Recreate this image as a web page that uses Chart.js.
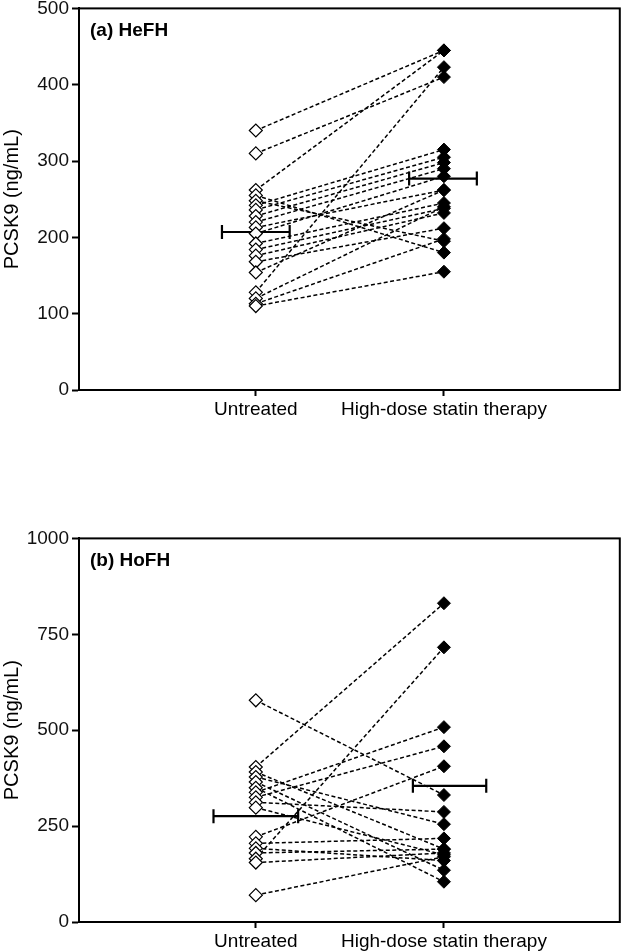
<!DOCTYPE html>
<html>
<head>
<meta charset="utf-8">
<script src="https://cdn.jsdelivr.net/npm/chart.js@4.4.1/dist/chart.umd.min.js"></script>
<style>
  html, body { margin: 0; padding: 0; background: #fff; overflow: hidden; width: 622px; height: 951px; position: relative; }
  canvas { position: absolute; left: 0; }
  #chart-a { top: -6px; }
  #chart-b { top: 524px; }
</style>
</head>
<body>
<canvas id="chart-a" width="629" height="446"></canvas>
<canvas id="chart-b" width="629" height="427"></canvas>
<script>
const groups = ['Untreated', 'High-dose statin therapy'];

// (a) HeFH, paired values (ng/mL)
const untreatedA = [340, 310, 262, 255, 248, 242, 236, 228, 220, 213, 205, 192, 184, 176, 168, 154, 128, 120, 113, 110];
const statinA    = [445, 410, 445, 180, 195, 315, 305, 298, 290, 262, 280, 245, 238, 232, 212, 262, 423, 240, 198, 155];
const meansA = [207, 277];
const yTicksA = [0, 100, 200, 300, 400, 500];

// (b) HoFH, paired values (ng/mL)
const untreatedB = [578, 404, 391, 378, 365, 350, 338, 325, 312, 298, 222, 205, 192, 180, 165, 155, 70];
const statinB    = [331, 831, 190, 255, 135, 105, 508, 458, 287, 175, 406, 218, 160, 190, 716, 180, 170];
const meansB = [276, 355];
const yTicksB = [0, 250, 500, 750, 1000];

const FONT = "'Liberation Sans', Arial, sans-serif";

// border all round the plot area + panel label
const framePlugin = {
    id: 'frame',
    afterDraw(chart, args, opts) {
        const { ctx, chartArea } = chart;
        ctx.save();
        ctx.strokeStyle = '#000';
        ctx.lineWidth = 2;
        ctx.strokeRect(chartArea.left, chartArea.top, chartArea.right - chartArea.left, chartArea.bottom - chartArea.top);
        ctx.fillStyle = '#000';
        ctx.font = 'bold 19px ' + FONT;
        ctx.textBaseline = 'middle';
        ctx.fillText(opts.label, chartArea.left + 11, chartArea.top + 22);
        ctx.restore();
    }
};

function buildChart(id, label, untreated, statin, means, yTicks, halfWidths, xAxisHeight) {
    const datasets = [];

    datasets.push({
        data: untreated.map(v => ({ x: 1, y: v })),
        showLine: false,
        pointStyle: 'rectRot',
        pointRadius: 6.5,
        pointBackgroundColor: '#fff',
        pointBorderColor: '#000',
        pointBorderWidth: 1.2,
        order: 0
    });
    datasets.push({
        data: statin.map(v => ({ x: 2, y: v })),
        showLine: false,
        pointStyle: 'rectRot',
        pointRadius: 6.5,
        pointBackgroundColor: '#000',
        pointBorderColor: '#000',
        pointBorderWidth: 1,
        order: 0
    });

    // mean bars
    means.forEach((m, i) => {
        const cx = halfWidths[i][0];
        const hw = halfWidths[i][1];
        datasets.push({
            data: [{ x: cx - hw, y: m }, { x: cx + hw, y: m }],
            showLine: true,
            borderColor: '#000',
            borderWidth: 2.2,
            pointStyle: 'line',
            rotation: 90,
            pointRadius: 7,
            pointBorderWidth: 2.2,
            pointBorderColor: '#000',
            order: 1
        });
    });

    // paired connecting lines
    untreated.forEach((u, i) => {
        datasets.push({
            data: [{ x: 1, y: u }, { x: 2, y: statin[i] }],
            showLine: true,
            borderColor: '#000',
            borderWidth: 1.5,
            borderDash: [4, 2.5],
            pointRadius: 0,
            order: 2
        });
    });

    return new Chart(document.getElementById(id), {
        type: 'scatter',
        data: { datasets: datasets },
        options: {
            responsive: false,
            devicePixelRatio: 1,
            animation: false,
            layout: { padding: { top: 8, right: 2, left: 0, bottom: 0 } },
            plugins: {
                legend: { display: false },
                tooltip: { enabled: false },
                frame: { label: label }
            },
            scales: {
                x: {
                    type: 'linear',
                    min: 0.06,
                    max: 2.935,
                    afterBuildTicks: scale => { scale.ticks = [{ value: 1 }, { value: 2 }]; },
                    afterFit: scale => { scale.height = xAxisHeight; },
                    ticks: {
                        color: '#000',
                        font: { family: FONT, size: 19 },
                        padding: 2,
                        maxRotation: 0,
                        callback: v => groups[v - 1]
                    },
                    grid: { drawOnChartArea: false, drawTicks: true, tickLength: 6, tickColor: '#000', tickWidth: 2 },
                    border: { display: true, color: '#000', width: 2 }
                },
                y: {
                    min: yTicks[0],
                    max: yTicks[yTicks.length - 1],
                    afterBuildTicks: scale => { scale.ticks = yTicks.map(v => ({ value: v })); },
                    afterFit: scale => { scale.width = 79; },
                    ticks: {
                        color: '#111',
                        font: { family: FONT, size: 19 },
                        padding: 3,
                        callback: v => String(v)
                    },
                    title: {
                        display: true,
                        text: 'PCSK9 (ng/mL)',
                        color: '#000',
                        font: { family: FONT, size: 20 },
                        padding: 0
                    },
                    grid: { drawOnChartArea: false, drawTicks: true, tickLength: 7, tickColor: '#000', tickWidth: 2 },
                    border: { display: true, color: '#000', width: 2 }
                }
            }
        },
        plugins: [framePlugin]
    });
}

// [centre, half-width] of each mean bar in x units
buildChart('chart-a', '(a) HeFH', untreatedA, statinA, meansA, yTicksA, [[1, 0.18], [1.995, 0.18]], 50);
buildChart('chart-b', '(b) HoFH', untreatedB, statinB, meansB, yTicksB, [[1, 0.225], [2.03, 0.195]], 29);
</script>
</body>
</html>
